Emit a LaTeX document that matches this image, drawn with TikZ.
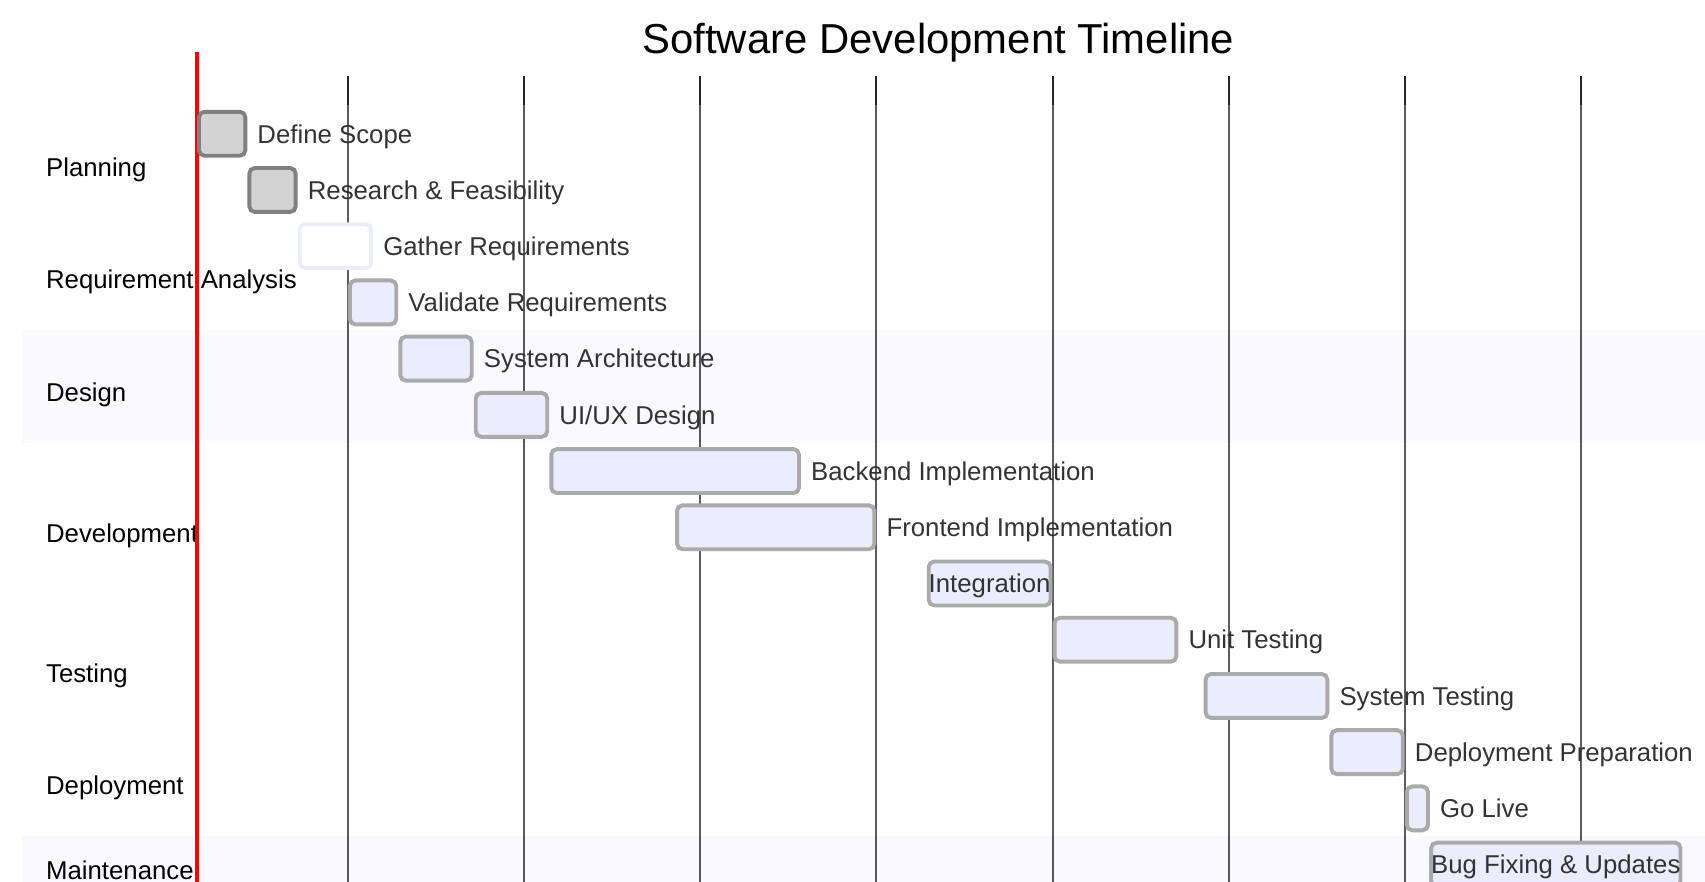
\documentclass[tikz,border=0pt]{standalone}
\usepackage{fontspec}
\setmainfont{Liberation Sans}
\usepackage{xcolor}
\usepackage{tikz}
\usetikzlibrary{positioning}
\definecolor{barfill}{HTML}{ECECFF}
\definecolor{barline}{HTML}{AAAAAA}
\definecolor{donefill}{HTML}{D3D3D3}
\definecolor{doneline}{HTML}{808080}
\definecolor{labeltext}{HTML}{333333}
\definecolor{gridline}{HTML}{262626}
\definecolor{bandtint}{HTML}{E6E6FF}
\newcommand{\labelfont}{\fontsize{11.85}{14}\selectfont}
\tikzstyle{task}=[rectangle, draw=barline, fill=barfill, line width=1.8pt, rounded corners=2.5pt, minimum height=20.2pt, inner sep=0pt, text=labeltext, font=\labelfont, text height=8.5pt, text depth=0pt]
\tikzstyle{done}=[task, draw=doneline, fill=donefill]
\tikzstyle{active}=[task, draw=barfill, fill=white]
\tikzstyle{tasklabel}=[inner sep=0pt, text=labeltext, font=\labelfont, text height=8.5pt, text depth=0pt]
\tikzstyle{section}=[anchor=west, inner sep=0pt, font=\labelfont, text height=8.5pt, text depth=0pt]
\tikzstyle{band}=[fill opacity=0.25]

\begin{document}
\begin{tikzpicture}[x=0.5pt, y=-0.5pt]
        \useasboundingbox (0,0) rectangle (1568,811);
        \node[inner sep=0pt, font=\fontsize{19.25}{23}\selectfont, text height=13.8pt, text depth=0pt] (title) at (863,35) {Software Development Timeline};

        % weekly grid
        \foreach \gx in {320,482,644,806,968,1130,1292,1454}
            \draw[gridline, line width=0.9pt] (\gx,70) -- (\gx,811);

        % section bands
        \fill[band, white] (20,97) rectangle (1568,303.8);
        \fill[band, bandtint] (20,303.8) rectangle (1568,407.2);
        \fill[band, white] (20,407.2) rectangle (1568,769.1);
        \fill[band, bandtint] (20,769.1) rectangle (1568,811);

        \node[section] (planning) at (42,154) {Planning};
        \node[section] (analysis) at (42,257) {Requirement Analysis};
        \node[section] (design) at (42,361) {Design};
        \node[section] (development) at (42,490) {Development};
        \node[section] (testing) at (42,619) {Testing};
        \node[section] (deployment) at (42,722) {Deployment};
        \node[section] (maintenance) at (42,800) {Maintenance};

        % today marker
        \draw[red, line width=1.8pt] (181.2,48) -- (181.2,811);

        % tasks
        \node[done, minimum width=21.3pt] (scope) at (204.3,123) {};
        \node[tasklabel, right=4.5pt of scope] (scopetxt) {Define Scope};
        \node[done, minimum width=21.3pt] (research) at (250.6,174.7) {};
        \node[tasklabel, right=4.5pt of research] (researchtxt) {Research \& Feasibility};
        \node[active, minimum width=32.85pt] (gather) at (308.5,226.4) {};
        \node[tasklabel, right=4.5pt of gather] (gathertxt) {Gather Requirements};
        \node[task, minimum width=21.3pt] (validate) at (343.1,278.1) {};
        \node[tasklabel, right=4.5pt of validate] (validatetxt) {Validate Requirements};
        \node[task, minimum width=32.85pt] (architecture) at (401.0,329.8) {};
        \node[tasklabel, right=4.5pt of architecture] (architecturetxt) {System Architecture};
        \node[task, minimum width=32.85pt] (uiux) at (470.4,381.5) {};
        \node[tasklabel, right=4.5pt of uiux] (uiuxtxt) {UI/UX Design};
        \node[task, minimum width=113.85pt] (backend) at (620.9,433.2) {};
        \node[tasklabel, right=4.5pt of backend] (backendtxt) {Backend Implementation};
        \node[task, minimum width=90.7pt] (frontend) at (713.4,484.9) {};
        \node[tasklabel, right=4.5pt of frontend] (frontendtxt) {Frontend Implementation};
        \node[task, minimum width=56pt] (integration) at (910.1,536.6) {Integration};
        \node[task, minimum width=56pt] (unit) at (1025.8,588.3) {};
        \node[tasklabel, right=4.5pt of unit] (unittxt) {Unit Testing};
        \node[task, minimum width=56pt] (system) at (1164.7,640) {};
        \node[tasklabel, right=4.5pt of system] (systemtxt) {System Testing};
        \node[task, minimum width=32.85pt] (prep) at (1257.2,691.7) {};
        \node[tasklabel, right=4.5pt of prep] (preptxt) {Deployment Preparation};
        \node[task, minimum width=9.7pt] (golive) at (1303.5,743.4) {};
        \node[tasklabel, right=4.5pt of golive] (golivetxt) {Go Live};
        \node[task, minimum width=113.85pt] (bugfix) at (1430.8,795.1) {Bug Fixing \& Updates};
    \end{tikzpicture}
\end{document}
